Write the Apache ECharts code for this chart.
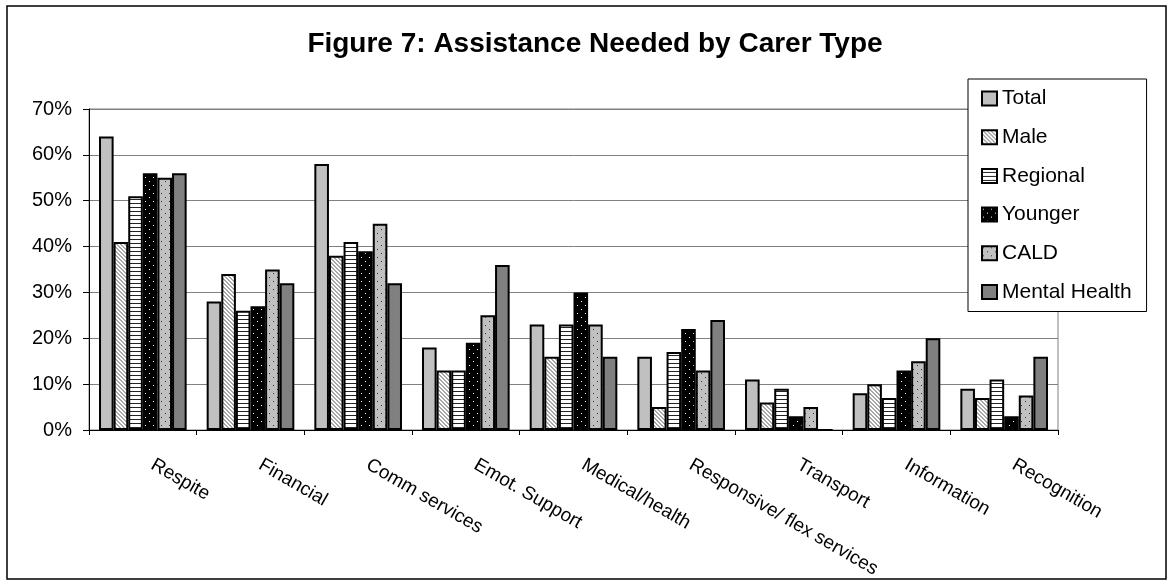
<!DOCTYPE html>
<html>
<head>
<meta charset="utf-8">
<title>Figure 7: Assistance Needed by Carer Type</title>
<script src="https://cdn.jsdelivr.net/npm/echarts@6/dist/echarts.min.js"></script>
<style>
  html, body { margin: 0; padding: 0; background: #fff; }
  #chart { width: 1172px; height: 584px; }
</style>
</head>
<body>
<div id="chart"></div>
<script>
// Share of carers (%) needing each kind of assistance, by carer type
const categories = ['Respite', 'Financial', 'Comm services', 'Emot. Support', 'Medical/health',
  'Responsive/ flex services', 'Transport', 'Information', 'Recognition'];
const seriesNames = ['Total', 'Male', 'Regional', 'Younger', 'CALD', 'Mental Health'];
const total        = [64, 28, 58, 18, 23, 16, 11, 8, 9];
const male         = [41, 34, 38, 13, 16, 5, 6, 10, 7];
const regional     = [51, 26, 41, 13, 23, 17, 9, 7, 11];
const younger      = [56, 27, 39, 19, 30, 22, 3, 13, 3];
const cald         = [55, 35, 45, 25, 23, 13, 5, 15, 7.5];
const mentalHealth = [56, 32, 32, 36, 16, 24, 0, 20, 16];
const yTicks = [0, 10, 20, 30, 40, 50, 60, 70];

const FONT = '"Liberation Sans", Arial, sans-serif';

// Small repeating tiles used as bar fills
function tile(w, h, bg, fg, pixels) {
  const c = document.createElement('canvas');
  c.width = w; c.height = h;
  const g = c.getContext('2d');
  g.fillStyle = bg; g.fillRect(0, 0, w, h);
  g.fillStyle = fg;
  pixels.forEach(p => g.fillRect(p[0], p[1], p[2] || 1, p[3] || 1));
  return { image: c, repeat: 'repeat' };
}
const diagPixels = [];
for (let i = 0; i < 4; i++) { diagPixels.push([i, i]); diagPixels.push([(i + 1) % 4, i]); }
const fills = [
  '#c0c0c0',
  tile(4, 4, '#ffffff', '#a8a8a8', diagPixels),
  tile(4, 4, '#ffffff', '#222222', [[0, 3, 4, 1]]),
  tile(8, 8, '#000000', '#ffffff', [[1, 1], [5, 5]]),
  tile(8, 8, '#c0c0c0', '#303030', [[1, 1], [5, 5]]),
  '#808080'
];
const values = [total, male, regional, younger, cald, mentalHealth];

const chart = echarts.init(document.getElementById('chart'), null, { renderer: 'canvas' });

chart.setOption({
  animation: false,
  backgroundColor: '#ffffff',
  title: {
    text: 'Figure 7: Assistance Needed by Carer Type',
    left: 590, top: 25, textAlign: 'center',
    textStyle: { fontFamily: FONT, fontWeight: 'bold', fontSize: 28, color: '#000' }
  },
  graphic: [{
    type: 'rect', z: -1, silent: true,
    shape: { x: 7, y: 6, width: 1159, height: 573 },
    style: { fill: 'none', stroke: '#000', lineWidth: 1.5 }
  }],
  legend: {
    orient: 'vertical', left: 968, top: 79,
    data: seriesNames,
    itemWidth: 15, itemHeight: 14, itemGap: 17.7,
    padding: [9, 15, 9, 13],
    backgroundColor: '#ffffff', borderColor: '#000', borderWidth: 1,
    icon: 'rect', z: 10,
    textStyle: { fontFamily: FONT, fontSize: 21, color: '#000', lineHeight: 20 }
  },
  grid: {
    left: 89, right: 114, top: 109, bottom: 154,
    show: true, borderColor: '#808080', borderWidth: 1, backgroundColor: 'transparent'
  },
  xAxis: {
    type: 'category', data: categories,
    axisLine: { lineStyle: { color: '#000', width: 1 } },
    axisTick: { show: true, length: 5, lineStyle: { color: '#000' } },
    axisLabel: {
      rotate: -30, margin: 28, padding: [0, 0, 0, 11],
      fontFamily: FONT, fontSize: 19, color: '#000', interval: 0
    }
  },
  yAxis: {
    type: 'value', min: yTicks[0], max: yTicks[yTicks.length - 1], interval: 10,
    axisLine: { show: true, lineStyle: { color: '#000', width: 1 } },
    axisTick: { show: true, length: 6, lineStyle: { color: '#000' } },
    splitLine: { lineStyle: { color: '#808080', width: 1 } },
    axisLabel: { formatter: '{value}%', margin: 17, fontFamily: FONT, fontSize: 20, color: '#000' }
  },
  series: seriesNames.map((name, i) => ({
    name: name,
    type: 'bar',
    data: values[i],
    barGap: '0%',
    barCategoryGap: '18.6%',
    itemStyle: { color: fills[i], borderColor: '#000', borderWidth: 2 }
  }))
});
</script>
</body>
</html>
